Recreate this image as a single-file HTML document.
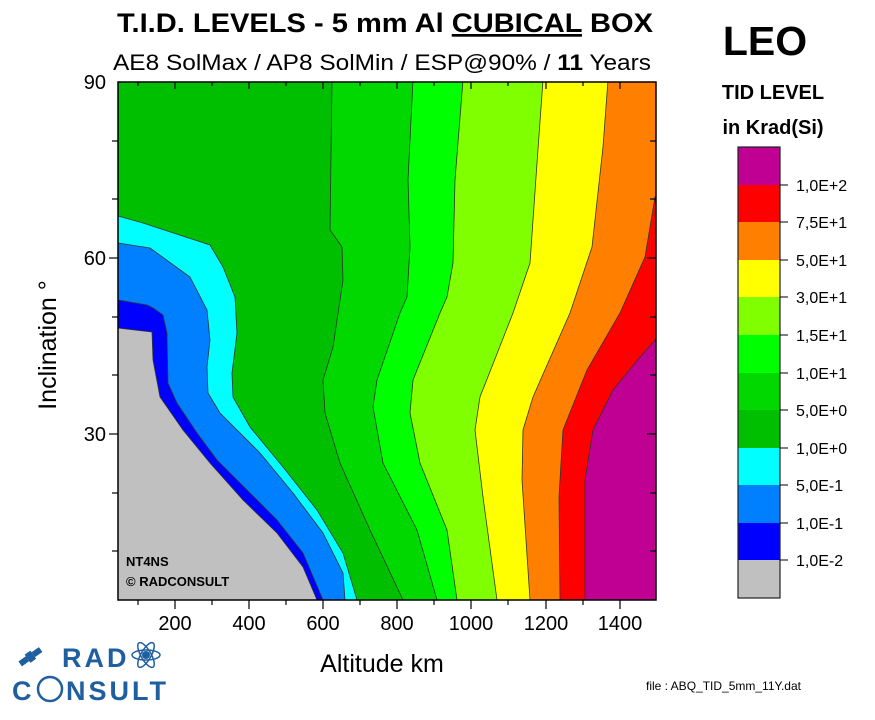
<!DOCTYPE html>
<html><head><meta charset="utf-8"><style>
body{margin:0;background:#fff;}
svg{display:block;font-family:"Liberation Sans",Arial,sans-serif;}
</style></head><body>
<svg width="875" height="720" viewBox="0 0 875 720" xmlns="http://www.w3.org/2000/svg">
<defs><clipPath id="c"><rect x="118" y="82" width="538" height="518"/></clipPath></defs>
<text x="117" y="32" font-size="27" font-weight="bold" textLength="536" lengthAdjust="spacingAndGlyphs">T.I.D. LEVELS - 5 mm Al <tspan text-decoration="underline">CUBICAL</tspan> BOX</text>
<text x="113" y="70" font-size="22" textLength="538" lengthAdjust="spacingAndGlyphs">AE8 SolMax / AP8 SolMin / ESP@90% / <tspan font-weight="bold">11</tspan> Years</text>
<text x="765" y="55" font-size="41" font-weight="bold" text-anchor="middle">LEO</text>
<text x="773" y="99" font-size="20" font-weight="bold" text-anchor="middle">TID LEVEL</text>
<text x="773" y="134" font-size="20" font-weight="bold" text-anchor="middle">in Krad(Si)</text>
<g clip-path="url(#c)" stroke="#333" stroke-width="0.8">
<rect x="118" y="82" width="538" height="518" fill="#00BE00" stroke="none"/>
<polygon fill="#00FFFF" points="118,216 143,223 210,245 223,267 235,297 237,333 232,373 233,397 250,427 283,467 317,510 343,553 357,600 118,600"/>
<polygon fill="#0080FF" points="118,243 150,248 190,277 207,310 210,340 207,367 208,393 220,413 260,453 293,493 323,533 343,573 345,600 118,600"/>
<polygon fill="#0000FF" points="118,300 147,305 153,308 163,315 167,333 168,383 177,403 197,433 217,460 250,493 277,520 303,553 323,600 118,600"/>
<polygon fill="#C0C0C0" points="118,328 152,332 153,360 160,397 183,430 210,463 243,500 277,533 303,567 317,600 118,600"/>
<polygon fill="#00D800" points="332,80 330,230 342,247 343,280 333,347 323,380 325,413 340,463 370,530 403,600 660,600 660,80"/>
<polygon fill="#00FF00" points="413,80 408,180 410,247 407,297 400,313 377,380 373,407 383,463 417,530 437,600 660,600 660,80"/>
<polygon fill="#80FF00" points="463,80 455,180 453,263 447,297 440,313 413,380 410,413 420,463 447,530 457,600 660,600 660,80"/>
<polygon fill="#FFFF00" points="543,80 537,163 530,263 513,313 480,397 475,430 483,497 497,600 660,600 660,80"/>
<polygon fill="#FF8000" points="608,80 603,147 592,247 570,313 533,397 523,430 522,480 530,600 660,600 660,80"/>
<polygon fill="#FF0000" points="660,190 655,197 645,257 620,313 587,370 563,430 559,497 560,600 660,600"/>
<polygon fill="#BF0093" points="660,335 655,340 640,357 613,390 593,430 585,480 585,600 660,600"/>
</g>
<rect x="118" y="82" width="538" height="518" fill="none" stroke="#000" stroke-width="1.5"/>
<g stroke="#000" stroke-width="1.2">
<line x1="138" y1="600" x2="138" y2="605"/><line x1="138" y1="82" x2="138" y2="86"/>
<line x1="175" y1="600" x2="175" y2="609"/><line x1="175" y1="82" x2="175" y2="89"/>
<line x1="212" y1="600" x2="212" y2="605"/><line x1="212" y1="82" x2="212" y2="86"/>
<line x1="249" y1="600" x2="249" y2="609"/><line x1="249" y1="82" x2="249" y2="89"/>
<line x1="286" y1="600" x2="286" y2="605"/><line x1="286" y1="82" x2="286" y2="86"/>
<line x1="323" y1="600" x2="323" y2="609"/><line x1="323" y1="82" x2="323" y2="89"/>
<line x1="360" y1="600" x2="360" y2="605"/><line x1="360" y1="82" x2="360" y2="86"/>
<line x1="397" y1="600" x2="397" y2="609"/><line x1="397" y1="82" x2="397" y2="89"/>
<line x1="434" y1="600" x2="434" y2="605"/><line x1="434" y1="82" x2="434" y2="86"/>
<line x1="471" y1="600" x2="471" y2="609"/><line x1="471" y1="82" x2="471" y2="89"/>
<line x1="508" y1="600" x2="508" y2="605"/><line x1="508" y1="82" x2="508" y2="86"/>
<line x1="546" y1="600" x2="546" y2="609"/><line x1="546" y1="82" x2="546" y2="89"/>
<line x1="583" y1="600" x2="583" y2="605"/><line x1="583" y1="82" x2="583" y2="86"/>
<line x1="620" y1="600" x2="620" y2="609"/><line x1="620" y1="82" x2="620" y2="89"/>
<line x1="112" y1="141" x2="118" y2="141"/><line x1="656" y1="141" x2="650" y2="141"/>
<line x1="112" y1="199" x2="118" y2="199"/><line x1="656" y1="199" x2="650" y2="199"/>
<line x1="109" y1="258" x2="118" y2="258"/><line x1="656" y1="258" x2="647" y2="258"/>
<line x1="112" y1="317" x2="118" y2="317"/><line x1="656" y1="317" x2="650" y2="317"/>
<line x1="112" y1="375" x2="118" y2="375"/><line x1="656" y1="375" x2="650" y2="375"/>
<line x1="109" y1="434" x2="118" y2="434"/><line x1="656" y1="434" x2="647" y2="434"/>
<line x1="112" y1="493" x2="118" y2="493"/><line x1="656" y1="493" x2="650" y2="493"/>
<line x1="112" y1="551" x2="118" y2="551"/><line x1="656" y1="551" x2="650" y2="551"/>
</g>
<g font-size="20" text-anchor="middle">
<text x="175" y="630">200</text><text x="249" y="630">400</text><text x="323" y="630">600</text>
<text x="397" y="630">800</text><text x="471" y="630">1000</text><text x="546" y="630">1200</text><text x="620" y="630">1400</text>
</g>
<g font-size="20" text-anchor="end">
<text x="106" y="89">90</text><text x="106" y="265">60</text><text x="106" y="441">30</text>
</g>
<text x="382" y="672" font-size="25" text-anchor="middle">Altitude km</text>
<text transform="translate(56,345) rotate(-90)" font-size="25" text-anchor="middle">Inclination °</text>
<text x="126" y="566" font-size="13" font-weight="bold">NT4NS</text>
<text x="126" y="586" font-size="13" font-weight="bold">© RADCONSULT</text>
<g>
<rect x="738" y="147" width="42" height="38" fill="#BF0093"/>
<rect x="738" y="185" width="42" height="37" fill="#FF0000"/>
<rect x="738" y="222" width="42" height="38" fill="#FF8000"/>
<rect x="738" y="260" width="42" height="37" fill="#FFFF00"/>
<rect x="738" y="297" width="42" height="38" fill="#80FF00"/>
<rect x="738" y="335" width="42" height="38" fill="#00FF00"/>
<rect x="738" y="373" width="42" height="37" fill="#00D800"/>
<rect x="738" y="410" width="42" height="38" fill="#00BE00"/>
<rect x="738" y="448" width="42" height="37" fill="#00FFFF"/>
<rect x="738" y="485" width="42" height="38" fill="#0080FF"/>
<rect x="738" y="523" width="42" height="37" fill="#0000FF"/>
<rect x="738" y="560" width="42" height="38" fill="#C0C0C0"/>
<rect x="738" y="147" width="42" height="451" fill="none" stroke="#222" stroke-width="1.2"/>
</g>
<g stroke="#000" stroke-width="1"><line x1="780" y1="185" x2="788" y2="185"/><line x1="780" y1="222" x2="788" y2="222"/><line x1="780" y1="260" x2="788" y2="260"/><line x1="780" y1="297" x2="788" y2="297"/><line x1="780" y1="335" x2="788" y2="335"/><line x1="780" y1="373" x2="788" y2="373"/><line x1="780" y1="410" x2="788" y2="410"/><line x1="780" y1="448" x2="788" y2="448"/><line x1="780" y1="485" x2="788" y2="485"/><line x1="780" y1="523" x2="788" y2="523"/><line x1="780" y1="560" x2="788" y2="560"/></g>
<g font-size="16">
<text x="796" y="191">1,0E+2</text><text x="796" y="228">7,5E+1</text><text x="796" y="266">5,0E+1</text>
<text x="796" y="303">3,0E+1</text><text x="796" y="341">1,5E+1</text><text x="796" y="379">1,0E+1</text>
<text x="796" y="416">5,0E+0</text><text x="796" y="454">1,0E+0</text><text x="796" y="491">5,0E-1</text>
<text x="796" y="529">1,0E-1</text><text x="796" y="566">1,0E-2</text>
</g>
<text x="646" y="690" font-size="12">file : ABQ_TID_5mm_11Y.dat</text>
<g fill="#1F5FA0">
<g transform="translate(30,657) rotate(-35)"><rect x="-12" y="-3" width="9" height="6"/><rect x="-3" y="-5" width="7" height="10"/><rect x="4" y="-3" width="9" height="6"/></g>
<text x="62" y="667" font-size="27" font-weight="bold" letter-spacing="3">RAD</text>
<text x="12" y="700" font-size="27" font-weight="bold" letter-spacing="3">C</text>
<circle cx="50" cy="689" r="12" fill="none" stroke="#1F5FA0" stroke-width="2.5"/>
<text x="66" y="700" font-size="27" font-weight="bold" letter-spacing="3">NSULT</text>
<circle cx="146" cy="655" r="4"/>
<ellipse cx="146" cy="655" rx="14" ry="5" fill="none" stroke="#1F5FA0" stroke-width="1.5"/>
<ellipse cx="146" cy="655" rx="14" ry="5" fill="none" stroke="#1F5FA0" stroke-width="1.5" transform="rotate(60 146 655)"/>
<ellipse cx="146" cy="655" rx="14" ry="5" fill="none" stroke="#1F5FA0" stroke-width="1.5" transform="rotate(-60 146 655)"/>
</g>
</svg>
</body></html>
